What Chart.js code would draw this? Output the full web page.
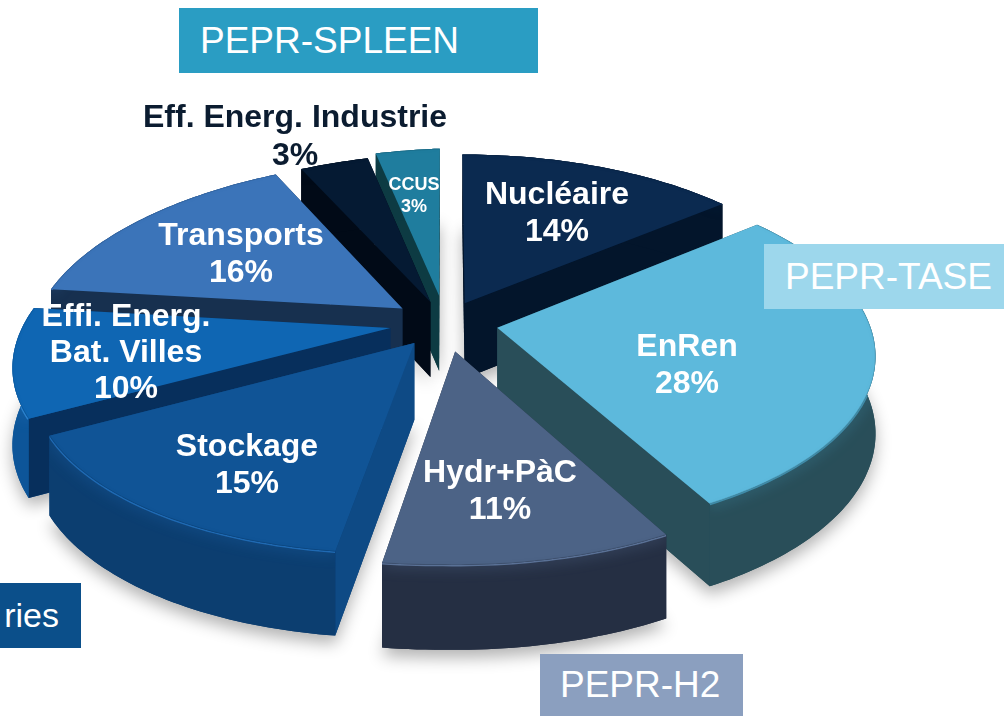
<!DOCTYPE html>
<html>
<head>
<meta charset="utf-8">
<script src="https://cdn.jsdelivr.net/npm/chart.js@4/dist/chart.umd.min.js"></script>
<style>
html,body{margin:0;padding:0;background:#fff;overflow:hidden}
#wrap{position:relative;width:1004px;height:716px;overflow:hidden}
canvas{position:absolute;left:0;top:0}
.box{position:absolute;color:#fff;font:37px "Liberation Sans",Arial,sans-serif;display:flex;align-items:center;justify-content:center;white-space:nowrap}
</style>
</head>
<body>
<div id="wrap">
  <canvas id="pie" width="1004" height="716"></canvas>
  <div class="box" style="left:179px;top:8px;width:359px;height:65px;background:#2A9DC3;justify-content:flex-start;padding-left:21px;box-sizing:border-box">PEPR-SPLEEN</div>
  <div class="box" style="left:764px;top:244px;width:240px;height:65px;background:#9DD7EC;justify-content:flex-start;padding-left:21px;box-sizing:border-box">PEPR-TASE</div>
  <div class="box" style="left:540px;top:654px;width:203px;height:62px;background:#8B9FBF;justify-content:flex-start;padding-left:20px;box-sizing:border-box">PEPR-H2</div>
  <div class="box" style="left:0;top:583px;width:81px;height:65px;background:#0B4F8A;font-size:34px;justify-content:flex-end;padding-right:22px;box-sizing:border-box">ries</div>
</div>
<script>
// values in percent, clockwise from the top (labels show them rounded)
const categories = ['Nucléaire','EnRen','Hydr+PàC','Stockage','Effi. Energ.\nBat. Villes','Transports','Eff. Energ. Industrie','CCUS'];
const shares = [14,28,10.7,15.2,10,15.5,3.4,3.2];
const explode = [47,53,60,50,55,55,49,60];

const topColors = ['#0B2A50','#5DB9DC','#4C6386','#105496','#0F66B3','#3B74B9','#051A33','#1F7D9E'];
const wallColors = ['#03152B','#294E59','#252F43','#0C3E70','#0D5599','#17304F','#010A17','#0D3B43'];
const cutColors = ['#03152B','#294E59','#252F43','#0E4A85','#072F5C','#17304F','#010A17','#0D3B43'];
const rimColors = ['#0B2A50','#3F8BA8','#5A7196','#1F69B2','#2A80CC','#3B74B9','#051A33','#1F7D9E'];
const labelColors = ['#fff','#fff','#fff','#fff','#fff','#fff','#0B1C30','#fff'];
const labelSizes = [32,32,32,32,32,32,32,18];
const labelGaps = [37,37,37,37,36,37,38,22];
const labelPos = [[557,195],[687,347],[500,473],[247,447],[126,317],[241,236],[295,118],[414,185]];

// fake perspective used to lay the pie down
const squash = 0.47, persp = 0.14, depth = 76, tilt = 0.03;

function project(el,u,v){
  const w = 1 - persp*v/el.outerRadius;
  return {x:el.x + u/w, y:el.y + squash*v/w - tilt*Math.min(u,0), drop:depth*(1 + (1/w - 1)*0.6)};
}

function sliceGeom(el){
  const mid = (el.startAngle + el.endAngle)/2, off = el.options.offset, R = el.outerRadius;
  const ax = off*Math.cos(mid), ay = off*Math.sin(mid);
  const rim = [];
  const n = Math.ceil((el.endAngle - el.startAngle)/0.02);
  for(let i=0;i<=n;i++){
    const a = el.startAngle + (el.endAngle - el.startAngle)*i/n;
    rim.push(project(el, ax + R*Math.cos(a), ay + R*Math.sin(a)));
  }
  return {apex:project(el,ax,ay), rim, mid};
}

function polyPath(ctx,pts){
  ctx.beginPath();
  pts.forEach((p,i)=> i ? ctx.lineTo(p.x,p.y) : ctx.moveTo(p.x,p.y));
  ctx.closePath();
}
const low = p => ({x:p.x, y:p.y + p.drop});

const pie3d = {
  id:'pie3d',
  beforeDatasetsDraw(chart){
    const ctx = chart.ctx;
    const arcs = chart.getDatasetMeta(0).data.map((el,i)=>({el,i,g:sliceGeom(el)}));
    arcs.sort((a,b)=>Math.sin(a.g.mid) - Math.sin(b.g.mid));

    // soft shadow under the slices
    arcs.forEach(({i,g})=>{
      ctx.save();
      ctx.shadowColor = 'rgba(0,0,0,0.3)';
      ctx.shadowBlur = 16;
      ctx.shadowOffsetY = 8;
      ctx.fillStyle = wallColors[i];
      polyPath(ctx,[low(g.apex),...g.rim.map(low)]);
      ctx.fill();
      ctx.restore();
    });

    arcs.forEach(({el,i,g})=>{
      const first = g.rim[0], last = g.rim[g.rim.length-1];
      const cuts = [[g.apex,first,low(first),low(g.apex)],[g.apex,last,low(last),low(g.apex)]];
      cuts.sort((a,b)=>(a[1].y - b[1].y));
      cuts.forEach(c=>{polyPath(ctx,c);ctx.fillStyle = cutColors[i];ctx.fill()});

      const strip = [...g.rim,...g.rim.map(low).reverse()];
      polyPath(ctx,strip);
      ctx.fillStyle = wallColors[i];
      ctx.fill();

      // lit edge just under the rim
      ctx.save();
      polyPath(ctx,strip);
      ctx.clip();
      ctx.shadowColor = rimColors[i];
      ctx.shadowBlur = 14;
      ctx.strokeStyle = rimColors[i];
      ctx.lineWidth = 3;
      ctx.beginPath();
      g.rim.forEach((p,k)=> k ? ctx.lineTo(p.x,p.y) : ctx.moveTo(p.x,p.y));
      ctx.stroke();
      ctx.restore();

      const face = [g.apex,...g.rim];
      polyPath(ctx,face);
      ctx.fillStyle = el.options.backgroundColor;
      ctx.fill();

      // darker bevel inside the rim
      ctx.save();
      polyPath(ctx,face);
      ctx.clip();
      ctx.shadowColor = 'rgba(0,0,0,0.3)';
      ctx.shadowBlur = 6;
      ctx.strokeStyle = 'rgba(0,0,0,0.12)';
      ctx.lineWidth = 1.5;
      ctx.beginPath();
      g.rim.forEach((p,k)=> k ? ctx.lineTo(p.x,p.y) : ctx.moveTo(p.x,p.y));
      ctx.stroke();
      ctx.restore();
    });
    return false;
  },
  afterDraw(chart){
    const ctx = chart.ctx;
    ctx.save();
    ctx.textAlign = 'center';
    ctx.textBaseline = 'middle';
    categories.forEach((name,i)=>{
      const lines = [...name.split('\n'), Math.round(shares[i]) + '%'];
      ctx.font = 'bold ' + labelSizes[i] + 'px "Liberation Sans", Arial, sans-serif';
      ctx.fillStyle = labelColors[i];
      lines.forEach((t,k)=>ctx.fillText(t, labelPos[i][0], labelPos[i][1] + k*labelGaps[i]));
    });
    ctx.restore();
  }
};

new Chart(document.getElementById('pie'),{
  type:'pie',
  plugins:[pie3d],
  data:{labels:categories,datasets:[{data:shares,backgroundColor:topColors,offset:explode,borderWidth:0}]},
  options:{
    responsive:false,
    animation:false,
    radius:372,
    layout:{padding:{right:114,bottom:70}},
    plugins:{legend:{display:false},tooltip:{enabled:false}}
  }
});
</script>
</body>
</html>
